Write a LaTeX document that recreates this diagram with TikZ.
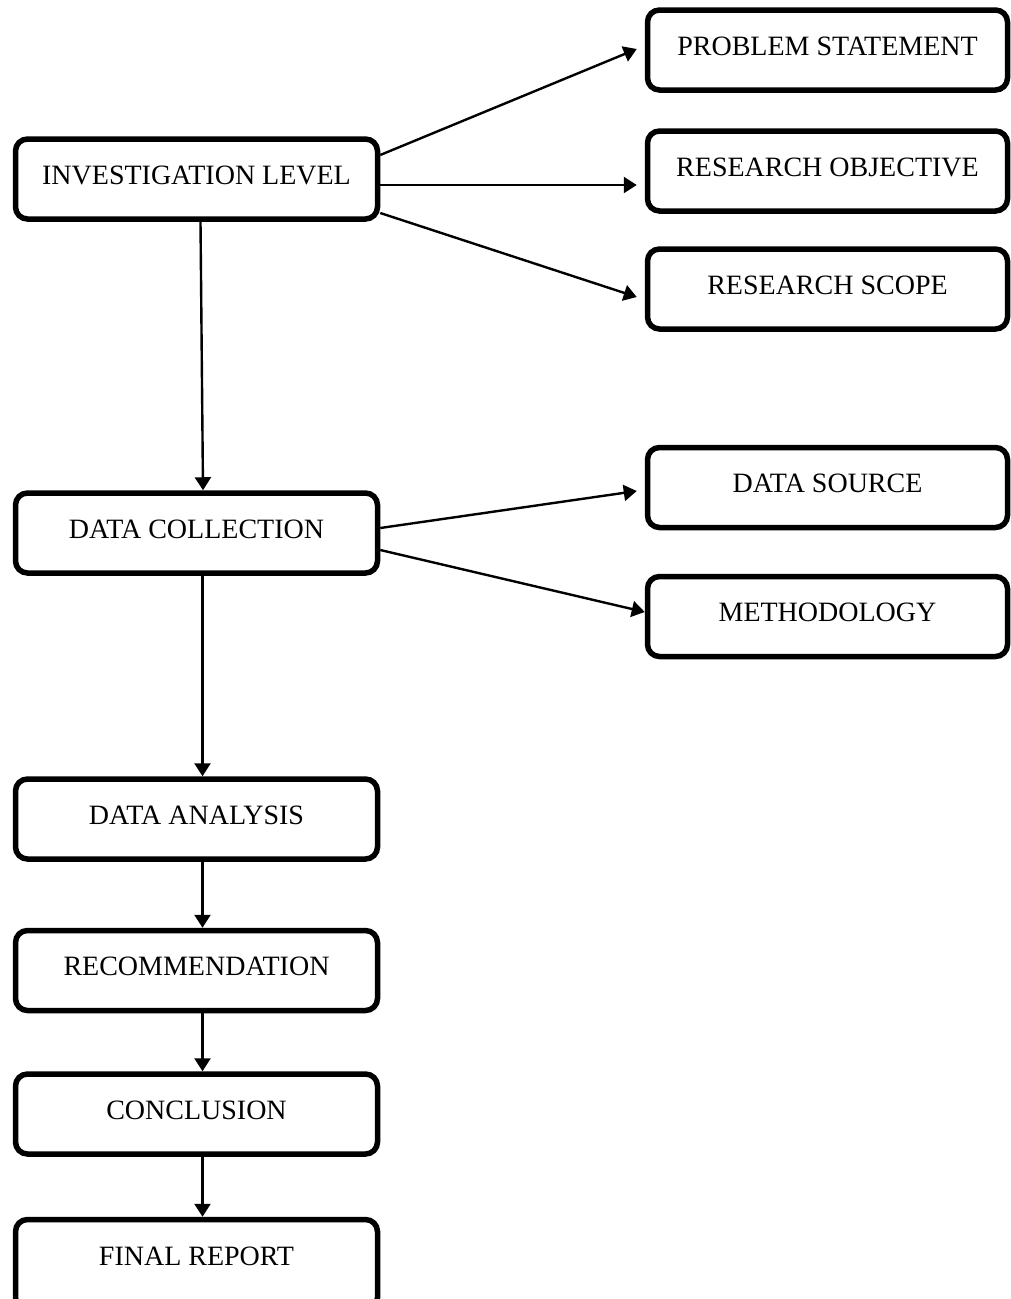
\documentclass[tikz,border=0pt]{standalone}
\usepackage{fontspec}
\setmainfont{Liberation Serif}
\usetikzlibrary{arrows.meta,calc}
\begin{document}
\begin{tikzpicture}[x=1pt,y=-1pt,
  box/.style={draw=black, line width=5.5pt, rounded corners=12pt, fill=white,
    minimum height=80pt, text height=19pt, text depth=9pt, inner sep=0pt,
    font=\fontsize{28}{33}\selectfont, align=center},
  lbox/.style={box, minimum width=362pt},
  rbox/.style={box, minimum width=360pt},
  arr/.style={draw=black, line width=2.4pt, -{Triangle[length=13pt,width=16pt]}}]
\useasboundingbox (0,0) rectangle (1011,1299);
% left column
\node[lbox] (IL) at (196.5,179) {INVESTIGATION LEVEL};
\node[lbox] (DC) at (196.5,533) {DATA COLLECTION};
\node[lbox] (DA) at (196.5,819) {DATA ANALYSIS};
\node[lbox] (REC) at (196.5,970.5) {RECOMMENDATION};
\node[lbox] (CONC) at (196.5,1114) {CONCLUSION};
\node[lbox, minimum height=90pt, text depth=18pt] (FR) at (196.5,1264.5) {FINAL REPORT};
% right column
\node[rbox] (PS) at (827.5,50) {PROBLEM STATEMENT};
\node[rbox] (RO) at (827.5,171) {RESEARCH OBJECTIVE};
\node[rbox] (RS) at (827.5,289) {RESEARCH SCOPE};
\node[rbox] (DS) at (827.5,487.5) {DATA SOURCE};
\node[rbox] (METH) at (827.5,616.5) {METHODOLOGY};
% connectors
\draw[arr] ($(IL.east)+(0,-24)$) -- ($(PS.west)+(-8,-1)$);
\draw[arr] ($(IL.east)+(0,6)$) -- ($(RO.west)+(-8,14)$);
\draw[arr] ($(IL.east)+(0,34)$) -- ($(RS.west)+(-8,8)$);
\draw[arr] ($(DC.east)+(0,-5)$) -- ($(DS.west)+(-8,3.5)$);
\draw[arr] ($(DC.east)+(0,17)$) -- ($(METH.west)+(0,-4.5)$);
\draw[arr] ($(IL.south)+(4,0)$) -- ($(DC.north)+(6.5,0)$);
\draw[arr] ($(DC.south)+(6,0)$) -- ($(DA.north)+(6,0)$);
\draw[arr] ($(DA.south)+(6,0)$) -- ($(REC.north)+(6,0)$);
\draw[arr] ($(REC.south)+(6,0)$) -- ($(CONC.north)+(6,0)$);
\draw[arr] ($(CONC.south)+(6,0)$) -- ($(FR.north)+(6,0)$);
\end{tikzpicture}
\end{document}
